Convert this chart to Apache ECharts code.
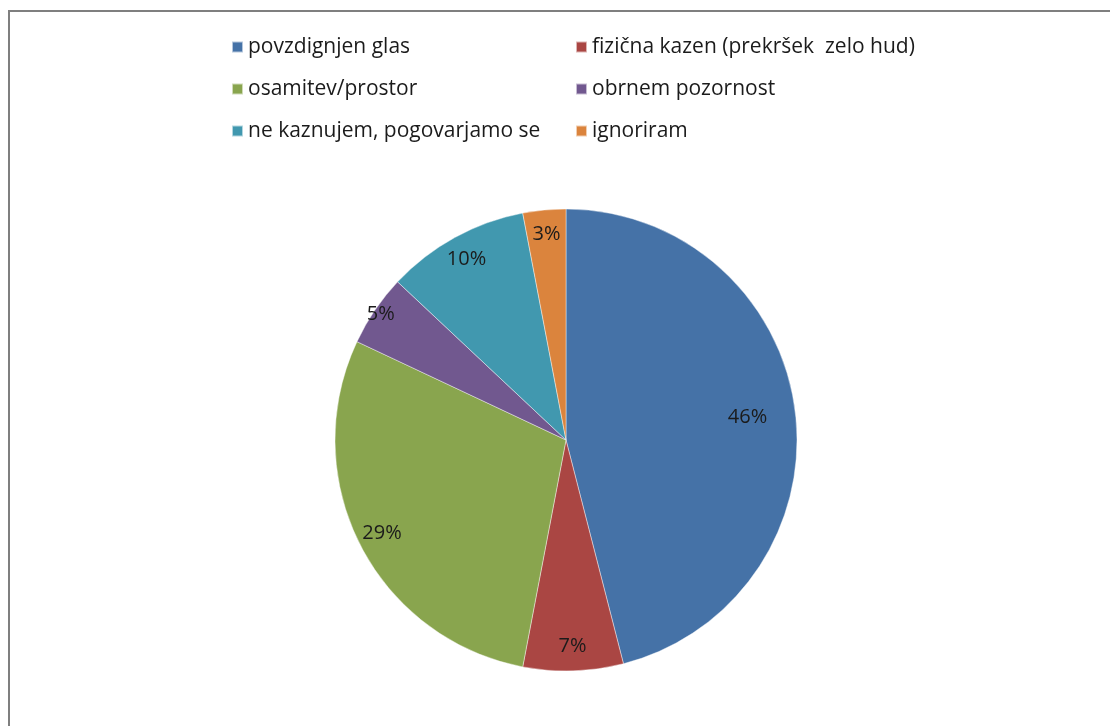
<!DOCTYPE html>
<html>
<head>
<meta charset="utf-8">
<script src="https://cdn.jsdelivr.net/npm/echarts@6/dist/echarts.min.js"></script>
<style>
  html, body { margin: 0; padding: 0; background: #fff; }
  #chart { width: 1110px; height: 726px; }
</style>
</head>
<body>
<div id="chart"></div>
<script>
// categories and shares (%)
const categories = [
  'povzdignjen glas',
  'fizična kazen (prekršek  zelo hud)',
  'osamitev/prostor',
  'obrnem pozornost',
  'ne kaznujem, pogovarjamo se',
  'ignoriram'
]
const shares = [46, 7, 29, 5, 10, 3]
const colors = ['#4572a7', '#aa4643', '#89a54e', '#71588f', '#4198af', '#db843d']

const font = 'Open Sans'
const center = [566, 440]
const radius = 231

const chart = echarts.init(document.getElementById('chart'))

const baseData = categories.map((name, i) => ({
  name,
  value: shares[i],
  itemStyle: { color: colors[i] }
}))

// transparent rings only used to place the % labels at different depths
const overlay = (r0, shown) => ({
  type: 'pie',
  center,
  radius: [r0, radius],
  silent: true,
  itemStyle: { color: 'rgba(0,0,0,0)', borderWidth: 0 },
  label: {
    position: 'inside',
    formatter: p => p.value + '%',
    color: '#1b1b1b',
    fontFamily: font,
    fontSize: 20
  },
  labelLine: { show: false },
  emphasis: { disabled: true },
  data: categories.map((name, i) => ({
    name,
    value: shares[i],
    label: { show: shown.includes(i) }
  }))
})

const legendBase = {
  orient: 'vertical',
  top: 36,
  padding: 0,
  icon: 'rect',
  itemWidth: 11,
  itemHeight: 11,
  itemGap: 20,
  selectedMode: false,
  textStyle: { fontFamily: font, fontSize: 21, color: '#1b1b1b', lineHeight: 22 }
}

chart.setOption({
  animation: false,
  backgroundColor: '#fff',
  color: colors,
  graphic: [
    {
      type: 'rect',
      shape: { x: 9, y: 11, width: 1200, height: 800 },
      style: { fill: 'none', stroke: '#7f7f7f', lineWidth: 2 },
      silent: true
    }
  ],
  legend: [
    { ...legendBase, left: 231, data: [categories[0], categories[2], categories[4]] },
    { ...legendBase, left: 575, data: [categories[1], categories[3], categories[5]] }
  ],
  series: [
    {
      type: 'pie',
      center,
      radius,
      startAngle: 90,
      clockwise: true,
      itemStyle: { borderColor: 'rgba(255,255,255,0.6)', borderWidth: 0.7 },
      label: { show: false },
      labelLine: { show: false },
      emphasis: { disabled: true },
      data: baseData
    },
    overlay(129, [0]),
    overlay(176, [1, 2, 4, 5]),
    overlay(211, [3])
  ]
})
</script>
</body>
</html>
